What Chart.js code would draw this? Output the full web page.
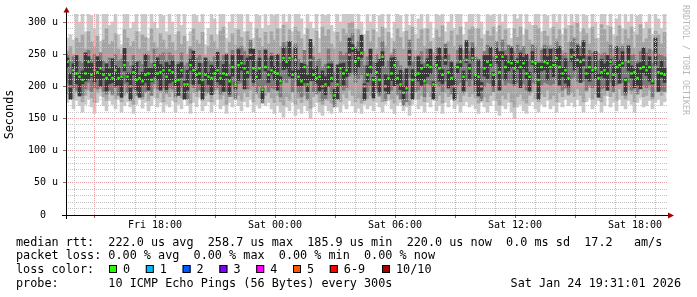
<!DOCTYPE html>
<html lang="en">
<head>
<meta charset="UTF-8">
<title>Smokeping latency</title>
<script src="https://cdn.jsdelivr.net/npm/chart.js"></script>
<style>
    body { margin: 0; background: #fff; }
    #chart { display: block; }
</style>
</head>
<body>
<canvas id="chart" width="697" height="297"></canvas>

<script>
    // time axis in hours counted from Fri 00:00
    const startHour = 13.55;   // left edge of the plot
    const endHour = 43.65;     // right edge of the plot
    const stepHour = 0.15;     // one sample every 9 minutes

    // median rtt in microseconds
    const median = [
        238, 200, 225, 220, 215, 210, 220, 238, 218, 225, 222, 228, 218, 213, 218, 213, 225, 213, 215, 233, 215, 200, 222, 210, 213, 208, 218, 220, 210, 233, 220, 222, 225, 215,
        225, 222, 208, 210, 225, 203, 203, 233, 225, 218, 220, 210, 218, 215, 213, 220, 225, 213, 220, 218, 208, 230, 203, 233, 236, 228, 222, 249, 228, 215, 228, 195, 230, 218,
        225, 222, 220, 208, 244, 238, 244, 218, 241, 215, 208, 230, 203, 241, 218, 213, 215, 200, 203, 230, 213, 186, 203, 228, 220, 225, 249, 259, 238, 244, 252, 200, 218,
        230, 210, 222, 210, 246, 200, 213, 220, 233, 213, 203, 190, 197, 249, 210, 218, 220, 228, 208, 233, 230, 203, 233, 228, 218, 241, 222, 213, 200, 230, 238, 215, 241, 228,
        244, 218, 215, 200, 228, 238, 233, 218, 246, 222, 246, 230, 238, 236, 228, 238, 230, 236, 220, 215, 238, 236, 210, 230, 238, 236, 230, 233, 244, 230, 220, 225, 213,
        246, 249, 241, 238, 241, 220, 230, 225, 228, 213, 222, 225, 220, 238, 218, 230, 233, 236, 210, 238, 220, 222, 213, 228, 230, 225, 230, 208, 249, 222, 220, 218
    ];

    // smoke: spread of the 10 pings, outermost pair first
    const outerHi = [
        275, 280, 272, 330, 300, 330, 285, 330, 310, 290, 330, 270, 320, 330, 295, 300, 330, 280, 265, 330, 330, 290, 300, 330, 285, 330, 320, 275, 330, 300, 290, 330, 310, 285,
        330, 300, 280, 330, 295, 330, 270, 285, 330, 310, 300, 330, 265, 290, 330, 305, 280, 330, 330, 275, 300, 330, 290, 330, 320, 285, 330, 300, 275, 330, 310, 290, 330, 295,
        330, 310, 330, 290, 330, 300, 330, 285, 330, 330, 305, 280, 330, 300, 290, 330, 275, 330, 310, 330, 295, 285, 330, 300, 330, 320, 330, 330, 290, 330, 300, 280, 330,
        300, 330, 285, 310, 330, 290, 330, 275, 300, 330, 310, 285, 330, 295, 330, 280, 305, 330, 290, 330, 300, 275, 330, 310, 330, 285, 300, 330, 290, 320, 330, 280, 300, 330,
        330, 290, 330, 300, 280, 330, 310, 330, 285, 330, 300, 330, 290, 275, 330, 305, 330, 280, 330, 300, 295, 330, 330, 285, 330, 310, 290, 330, 300, 330, 280, 330, 295,
        330, 300, 330, 285, 330, 310, 290, 330, 300, 275, 330, 330, 295, 330, 280, 305, 330, 290, 330, 300, 330, 285, 310, 330, 290, 300, 330, 280, 330, 305, 290, 330
    ];
    const outerLo = [
        175, 182, 165, 178, 170, 160, 172, 180, 168, 158, 175, 185, 170, 162, 178, 172, 165, 180, 160, 170, 176, 168, 158, 172, 180, 166, 175, 162, 170, 182, 168, 175, 160, 172,
        168, 178, 160, 172, 165, 180, 170, 158, 175, 168, 182, 162, 170, 176, 160, 172, 180, 165, 170, 158, 175, 168, 182, 170, 162, 176, 168, 180, 160, 172, 166, 178, 170, 175,
        165, 158, 170, 160, 152, 168, 162, 175, 155, 165, 158, 170, 162, 150, 168, 175, 160, 155, 170, 162, 158, 175, 168, 160, 172, 165, 178, 170, 160, 166, 158, 172, 165,
        170, 162, 175, 168, 160, 172, 178, 165, 158, 170, 175, 162, 168, 155, 172, 180, 165, 170, 160, 175, 168, 178, 162, 170, 158, 175, 168, 180, 165, 172, 160, 170, 176, 168,
        172, 165, 158, 175, 168, 160, 170, 178, 162, 155, 170, 165, 175, 160, 150, 168, 172, 162, 158, 170, 176, 165, 160, 172, 168, 178, 165, 170, 160, 175, 168, 180, 170,
        175, 168, 180, 170, 160, 176, 182, 165, 172, 178, 160, 170, 185, 168, 175, 162, 180, 170, 165, 178, 172, 160, 175, 182, 168, 170, 178, 165, 175, 180, 170, 176
    ];
    const wideHi = [
        255, 262, 250, 275, 268, 280, 258, 285, 270, 262, 278, 252, 272, 290, 265, 270, 282, 258, 250, 288, 275, 262, 270, 285, 258, 280, 276, 255, 290, 268, 260, 282, 272, 258,
        280, 268, 256, 285, 265, 278, 250, 262, 290, 272, 266, 284, 248, 262, 280, 270, 258, 286, 292, 252, 268, 282, 264, 288, 276, 258, 285, 268, 252, 290, 275, 262, 284, 266,
        285, 272, 290, 262, 295, 270, 288, 258, 292, 285, 274, 256, 290, 268, 262, 286, 252, 292, 278, 288, 266, 258, 284, 270, 290, 282, 298, 300, 262, 288, 272, 255, 286,
        270, 288, 258, 276, 292, 262, 284, 252, 270, 290, 276, 258, 286, 268, 292, 256, 274, 288, 262, 290, 270, 252, 288, 276, 294, 258, 270, 286, 262, 280, 292, 256, 272, 288,
        292, 262, 290, 274, 255, 286, 278, 292, 260, 294, 272, 288, 264, 252, 290, 276, 292, 258, 288, 272, 266, 294, 290, 260, 286, 278, 264, 292, 274, 288, 256, 290, 268,
        294, 276, 298, 262, 290, 282, 266, 292, 274, 252, 296, 288, 270, 292, 258, 278, 294, 266, 288, 274, 292, 260, 280, 296, 268, 274, 290, 256, 286, 280, 266, 284
    ];
    const wideLo = [
        188, 192, 180, 190, 185, 176, 186, 194, 182, 175, 190, 196, 184, 178, 192, 186, 180, 194, 176, 186, 190, 182, 172, 188, 195, 180, 190, 178, 186, 196, 182, 190, 176, 188,
        184, 192, 176, 188, 182, 194, 186, 174, 190, 184, 196, 178, 186, 190, 176, 188, 195, 180, 186, 172, 190, 184, 196, 186, 178, 190, 184, 194, 176, 188, 182, 192, 186, 190,
        182, 175, 186, 176, 170, 184, 178, 190, 172, 182, 175, 186, 178, 166, 184, 190, 176, 172, 186, 178, 174, 190, 184, 176, 188, 182, 194, 186, 176, 182, 174, 188, 180,
        186, 178, 190, 184, 176, 188, 194, 180, 174, 186, 190, 178, 184, 170, 188, 195, 180, 186, 176, 190, 184, 194, 178, 186, 174, 190, 184, 196, 180, 188, 176, 186, 192, 184,
        188, 182, 174, 190, 184, 176, 186, 194, 178, 170, 186, 180, 190, 176, 168, 184, 188, 178, 174, 186, 192, 180, 176, 188, 184, 194, 180, 186, 176, 190, 184, 196, 186,
        190, 184, 196, 186, 176, 192, 198, 180, 188, 194, 176, 186, 200, 184, 190, 178, 196, 186, 180, 194, 188, 176, 190, 198, 184, 186, 194, 180, 190, 196, 186, 192
    ];
    const midHi = [
        250, 238, 246, 244, 240, 236, 248, 256, 242, 250, 246, 252, 240, 236, 244, 238, 250, 240, 242, 256, 238, 232, 248, 236, 240, 234, 246, 248, 236, 258, 246, 250, 252, 240,
        252, 248, 234, 238, 252, 232, 236, 258, 250, 244, 248, 236, 244, 240, 238, 246, 252, 240, 248, 244, 234, 256, 232, 260, 262, 254, 248, 272, 254, 240, 256, 228, 258, 244,
        252, 248, 246, 236, 268, 262, 270, 244, 266, 242, 236, 256, 232, 266, 246, 240, 242, 230, 234, 258, 240, 222, 234, 254, 248, 252, 274, 282, 262, 270, 276, 232, 246,
        256, 238, 250, 236, 270, 230, 240, 248, 258, 240, 232, 222, 228, 272, 238, 246, 248, 254, 236, 258, 256, 232, 260, 254, 246, 266, 250, 240, 230, 256, 264, 242, 266, 254,
        268, 246, 242, 230, 254, 264, 258, 246, 270, 250, 272, 256, 264, 262, 254, 264, 256, 262, 248, 242, 264, 262, 238, 256, 264, 262, 256, 260, 270, 256, 248, 252, 240,
        270, 274, 266, 262, 268, 248, 256, 252, 254, 240, 250, 252, 248, 264, 246, 256, 260, 262, 238, 264, 248, 250, 240, 254, 256, 252, 258, 236, 274, 250, 248, 246
    ];
    const midLo = [
        205, 180, 198, 194, 190, 186, 196, 206, 192, 198, 196, 202, 192, 188, 194, 188, 198, 186, 190, 204, 190, 178, 196, 186, 188, 184, 192, 194, 186, 204, 196, 196, 198, 190,
        198, 196, 184, 186, 198, 180, 180, 204, 198, 192, 194, 186, 192, 190, 188, 194, 198, 188, 194, 192, 184, 202, 180, 204, 206, 200, 196, 216, 200, 190, 200, 174, 202, 192,
        198, 196, 194, 184, 210, 206, 212, 192, 208, 190, 184, 202, 180, 208, 192, 188, 190, 178, 180, 202, 188, 168, 180, 200, 194, 198, 216, 222, 206, 212, 218, 178, 192,
        202, 186, 196, 186, 212, 178, 188, 194, 204, 188, 180, 170, 176, 214, 186, 192, 194, 200, 184, 204, 202, 180, 204, 200, 192, 208, 196, 188, 178, 202, 206, 190, 208, 200,
        210, 192, 190, 178, 200, 206, 204, 192, 212, 196, 212, 202, 206, 204, 200, 206, 202, 204, 194, 190, 206, 204, 186, 202, 206, 204, 202, 204, 210, 202, 194, 198, 188,
        212, 214, 208, 206, 208, 194, 202, 198, 200, 188, 196, 198, 194, 206, 192, 202, 204, 206, 186, 206, 194, 196, 188, 200, 202, 198, 202, 184, 214, 196, 194, 192
    ];
    const innerHi = [
        244, 220, 235, 248, 219, 224, 252, 246, 236, 228, 246, 240, 223, 235, 227, 243, 232, 229, 217, 259, 221, 220, 232, 238, 217, 222, 250, 228, 228, 236, 244, 234, 230, 237,
        233, 240, 211, 234, 237, 208, 225, 242, 255, 225, 236, 212, 244, 221, 233, 230, 253, 217, 234, 250, 216, 248, 206, 257, 248, 233, 244, 258, 258, 222, 244, 197, 256, 224,
        247, 231, 250, 215, 260, 240, 270, 224, 261, 225, 236, 234, 217, 273, 226, 231, 218, 224, 215, 235, 235, 195, 233, 235, 236, 227, 275, 265, 258, 254, 280, 204, 232,
        258, 214, 236, 242, 254, 218, 216, 244, 245, 218, 225, 199, 227, 256, 226, 220, 246, 234, 228, 243, 258, 207, 247, 260, 226, 259, 225, 237, 212, 235, 260, 224, 271, 235,
        260, 220, 241, 206, 248, 248, 261, 222, 260, 254, 254, 248, 241, 260, 240, 243, 252, 245, 250, 222, 254, 238, 236, 236, 258, 246, 258, 237, 258, 262, 228, 243, 216,
        258, 254, 263, 247, 271, 227, 246, 227, 254, 219, 242, 235, 248, 242, 232, 262, 241, 254, 213, 262, 232, 227, 235, 237, 260, 232, 246, 210, 275, 228, 240, 228
    ];
    const innerLo = [
        230, 180, 221, 204, 185, 204, 208, 212, 215, 207, 212, 200, 213, 193, 204, 206, 201, 202, 183, 224, 207, 180, 218, 194, 183, 202, 206, 194, 207, 215, 210, 194, 220, 195,
        205, 208, 201, 186, 214, 180, 194, 225, 203, 214, 204, 180, 212, 203, 187, 217, 207, 203, 192, 213, 188, 216, 196, 209, 225, 196, 213, 241, 206, 211, 212, 180, 224, 206,
        219, 210, 194, 205, 226, 228, 216, 213, 221, 201, 201, 206, 192, 209, 209, 205, 193, 196, 187, 200, 207, 180, 180, 225, 202, 215, 221, 254, 218, 230, 245, 180, 207,
        220, 182, 217, 190, 232, 193, 189, 209, 201, 204, 195, 180, 193, 233, 180, 212, 208, 202, 205, 215, 220, 180, 228, 208, 204, 234, 198, 202, 180, 221, 230, 193, 237, 212,
        240, 202, 185, 194, 216, 212, 230, 200, 236, 194, 241, 210, 224, 229, 204, 227, 198, 227, 212, 193, 234, 220, 180, 224, 226, 210, 227, 215, 234, 202, 215, 205, 199,
        239, 225, 230, 206, 232, 212, 208, 221, 212, 183, 216, 213, 194, 235, 200, 220, 205, 231, 190, 224, 213, 198, 202, 196, 221, 217, 208, 204, 233, 192, 214, 206
    ];

    const xTickHours = [18, 24, 30, 36, 42];
    const xTickLabels = ['Fri 18:00', 'Sat 00:00', 'Sat 06:00', 'Sat 12:00', 'Sat 18:00'];
    const yTickValues = [0, 50, 100, 150, 200, 250, 300];
    const yTickLabels = ['0  ', '50 u', '100 u', '150 u', '200 u', '250 u', '300 u'];

    const lossLabels = ['0', '1', '2', '3', '4', '5', '6-9', '10/10'];
    const lossColors = ['#26ff00', '#00b8ff', '#0059ff', '#7e00ff', '#ff00ff', '#ff5500', '#ff0000', '#a10000'];

    const legendLines = [
        'median rtt:  222.0 us avg  258.7 us max  185.9 us min  220.0 us now  0.0 ms sd  17.2   am/s',
        'packet loss: 0.00 % avg  0.00 % max  0.00 % min  0.00 % now',
        'loss color:',
        'probe:       10 ICMP Echo Pings (56 Bytes) every 300s'
    ];
    const stamp = 'Sat Jan 24 19:31:01 2026';

    const MONO = '"DejaVu Sans Mono", monospace';
    const minorGrid = '#c4c4c4';
    const majorGrid = '#e8a4a4';

    const timeAt = i => startHour + stepHour * (i + 0.5);

    const band = (lo, hi, color) => ({
        type: 'bar',
        data: lo.map((v, i) => ({ x: timeAt(i), y: [v, hi[i]] })),
        backgroundColor: color,
        borderWidth: 0,
        barThickness: 3,
        grouped: false
    });

    // axes, arrows, watermark and the text legend under the plot
    const decor = {
        id: 'decor',
        afterDraw(chart) {
            const ctx = chart.ctx;
            const a = chart.chartArea;
            ctx.save();

            ctx.strokeStyle = '#000';
            ctx.lineWidth = 1;
            ctx.beginPath();
            ctx.moveTo(a.left - 4, a.bottom + 0.5);
            ctx.lineTo(a.right, a.bottom + 0.5);
            ctx.moveTo(a.left + 0.5, a.bottom + 4);
            ctx.lineTo(a.left + 0.5, a.top - 2);
            ctx.stroke();

            ctx.fillStyle = '#a00000';
            ctx.beginPath();
            ctx.moveTo(a.left + 0.5, a.top - 7);
            ctx.lineTo(a.left - 2.5, a.top - 1.5);
            ctx.lineTo(a.left + 3.5, a.top - 1.5);
            ctx.closePath();
            ctx.fill();
            ctx.beginPath();
            ctx.moveTo(a.right + 6, a.bottom + 0.5);
            ctx.lineTo(a.right, a.bottom - 2.5);
            ctx.lineTo(a.right, a.bottom + 3.5);
            ctx.closePath();
            ctx.fill();

            // watermark
            ctx.save();
            ctx.translate(685, 5);
            ctx.rotate(Math.PI / 2);
            ctx.font = '8.3px ' + MONO;
            ctx.fillStyle = '#b8b8b8';
            ctx.textBaseline = 'middle';
            ctx.textAlign = 'left';
            ctx.fillText('RRDTOOL / TOBI OETIKER', 0, 0);
            ctx.restore();

            // legend text
            ctx.font = '11.8px ' + MONO;
            ctx.fillStyle = '#000';
            ctx.textBaseline = 'alphabetic';
            ctx.textAlign = 'left';
            const rows = [246, 259, 273, 287];
            legendLines.forEach((t, k) => ctx.fillText(t, 16, rows[k]));
            ctx.textAlign = 'right';
            ctx.fillText(stamp, 681, rows[3]);

            ctx.textAlign = 'left';
            lossLabels.forEach((lab, k) => {
                const x = k < 7 ? 109 + k * 36.8 : 382;
                ctx.fillStyle = lossColors[k];
                ctx.fillRect(x, 265, 8, 8);
                ctx.strokeStyle = '#000';
                ctx.strokeRect(x + 0.5, 265.5, 7, 7);
                ctx.fillStyle = '#000';
                ctx.fillText(lab, x + 14, rows[2]);
            });
            ctx.restore();
        }
    };

    Chart.defaults.font.family = MONO;
    Chart.defaults.color = '#000';

    const ctx = document.getElementById('chart').getContext('2d');
    new Chart(ctx, {
        type: 'bar',
        data: {
            datasets: [
                {
                    type: 'line',
                    data: median.map((v, i) => ({ x: timeAt(i), y: v })),
                    showLine: false,
                    pointStyle: 'rect',
                    pointRadius: 1.7,
                    pointHoverRadius: 1.7,
                    pointBackgroundColor: lossColors[0],
                    pointBorderWidth: 0
                },
                band(innerLo, innerHi, '#393939'),
                band(midLo, midHi, '#7a7a7a'),
                band(wideLo, wideHi, '#a4a4a4'),
                band(outerLo, outerHi, '#cacaca')
            ]
        },
        options: {
            responsive: false,
            animation: false,
            devicePixelRatio: 1,
            events: [],
            layout: { padding: { left: 0, right: 29, top: 14, bottom: 0 } },
            plugins: { legend: { display: false }, tooltip: { enabled: false } },
            scales: {
                x: {
                    type: 'linear',
                    min: startHour,
                    max: endHour,
                    offset: false,
                    afterFit: s => { s.height = 82; },
                    afterBuildTicks: s => {
                        s.ticks = [];
                        for (let h = 14; h <= 43; h++) s.ticks.push({ value: h });
                    },
                    ticks: {
                        autoSkip: false,
                        maxRotation: 0,
                        padding: 1,
                        font: { size: 10 },
                        callback: v => {
                            const k = xTickHours.indexOf(v);
                            return k < 0 ? '' : xTickLabels[k];
                        }
                    },
                    grid: {
                        z: 1,
                        offset: false,
                        tickLength: 3,
                        color: c => (c.tick && c.tick.value % 3 === 0) ? majorGrid : minorGrid,
                        tickColor: c => (c.tick && c.tick.value % 3 === 0) ? '#777' : 'rgba(0,0,0,0)'
                    },
                    border: { display: false, dash: [1, 1] }
                },
                y: {
                    min: 0,
                    max: 312.5,
                    afterFit: s => { s.width = 66; },
                    afterBuildTicks: s => {
                        s.ticks = [];
                        for (let v = 0; v <= 310; v += 10) s.ticks.push({ value: v });
                    },
                    ticks: {
                        autoSkip: false,
                        padding: 5,
                        font: { size: 10 },
                        callback: v => {
                            const k = yTickValues.indexOf(v);
                            return k < 0 ? '' : yTickLabels[k];
                        }
                    },
                    grid: {
                        z: 1,
                        tickLength: 3,
                        color: c => (c.tick && c.tick.value % 50 === 0) ? majorGrid : minorGrid,
                        tickColor: c => (c.tick && c.tick.value % 50 === 0) ? '#777' : 'rgba(0,0,0,0)'
                    },
                    border: { display: false, dash: [1, 1] },
                    title: {
                        display: true,
                        text: 'Seconds',
                        font: { size: 11.8 },
                        padding: { top: 3, bottom: 0 }
                    }
                }
            }
        },
        plugins: [decor]
    });
</script>
</body>
</html>
